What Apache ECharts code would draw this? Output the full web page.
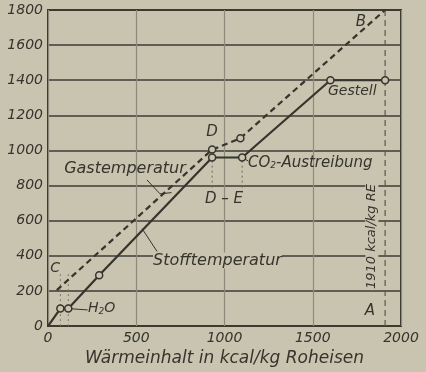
<!DOCTYPE html>
<html>
<head>
<meta charset="utf-8">
<script src="https://cdn.jsdelivr.net/npm/echarts@6/dist/echarts.min.js"></script>
<style>
  html, body { margin: 0; padding: 0; background: #c8c4b0; }
  #chart { width: 426px; height: 372px; }
</style>
</head>
<body>
<div id="chart"></div>
<script>
// Stofftemperatur (solid) and Gastemperatur (dashed), kcal/kg vs °C
const stoffX = [0, 70, 115, 290, 930, 1100, 1600, 1910];
const stoffY = [0, 100, 100, 290, 960, 960, 1400, 1400];
const stoffMark = [false, true, true, true, true, true, true, true];
const gasX = [50, 930, 1090, 1910];
const gasY = [205, 1005, 1070, 1800];
const gasMark = [false, true, true, false];
const xTicks = [0, 500, 1000, 1500, 2000];
const yTicks = [0, 200, 400, 600, 800, 1000, 1200, 1400, 1600, 1800];
const limitX = 1910; // 1910 kcal/kg RE

const bg = "#c8c4b0";
const ink = "#35342d";
const font = "'DejaVu Sans', sans-serif";

const pts = (xs, ys, marks) =>
  xs.map((x, i) => ({ value: [x, ys[i]], symbol: marks[i] ? "circle" : "none" }));

// helper lines (leaders, dotted guides) in data units
const guide = (data, type, width, color) => ({
  type: "line",
  data: data,
  symbol: "none",
  silent: true,
  lineStyle: { color: color || ink, width: width || 1, type: type || "solid" },
  z: 1,
});

const chart = echarts.init(document.getElementById("chart"));
const option = {
  backgroundColor: bg,
  animation: false,
  grid: { left: 48, right: 25, top: 10, bottom: 44, show: true, borderColor: ink, borderWidth: 2 },
  xAxis: {
    type: "value", min: 0, max: 2000, interval: 500,
    name: "Wärmeinhalt in kcal/kg Roheisen",
    nameLocation: "middle", nameGap: 19,
    nameTextStyle: { color: ink, fontFamily: font, fontStyle: "italic", fontSize: 17 },
    axisLine: { show: false },
    axisTick: { show: false },
    axisLabel: { color: ink, fontFamily: font, fontStyle: "italic", fontSize: 14, margin: 5,
      formatter: v => xTicks.includes(v) ? String(v) : "" },
    splitLine: { show: true, lineStyle: { color: "#8d8a7b", width: 1.2 } },
  },
  yAxis: {
    type: "value", min: 0, max: 1800, interval: 200,
    axisLine: { show: false },
    axisTick: { show: false },
    axisLabel: { color: ink, fontFamily: font, fontStyle: "italic", fontSize: 14, margin: 5,
      formatter: v => yTicks.includes(v) ? String(v) : "" },
    splitLine: { show: true, lineStyle: { color: "#3e3d36", width: 1.5 } },
  },
  series: [
    {
      name: "Stofftemperatur", type: "line",
      data: pts(stoffX, stoffY, stoffMark),
      symbolSize: 7,
      itemStyle: { color: bg, borderColor: ink, borderWidth: 1.5 },
      lineStyle: { color: ink, width: 2.2 },
      z: 3,
    },
    {
      name: "Gastemperatur", type: "line",
      data: pts(gasX, gasY, gasMark),
      symbolSize: 7,
      itemStyle: { color: bg, borderColor: ink, borderWidth: 1.5 },
      lineStyle: { color: ink, width: 2.2, type: [6, 4] },
      z: 3,
    },
    guide([[limitX, 0], [limitX, 1800]], [6, 4], 1.2, "#5a584f"),
    guide([[930, 760], [930, 1000]], [2, 3], 1, "#6a685d"),
    guide([[1100, 760], [1100, 960]], [2, 3], 1, "#6a685d"),
    guide([[70, 0], [70, 300]], [2, 3], 1, "#7a776b"),
    guide([[115, 0], [115, 300]], [2, 3], 1, "#7a776b"),
    guide([[533, 555], [618, 425]], "solid", 1),
    guide([[113, 100], [225, 92]], "solid", 1),
    guide([[561, 832], [635, 753], [700, 760]], "solid", 1),
    guide([[1100, 960], [1135, 940]], "solid", 1),
  ],
};
chart.setOption(option);

// annotation texts, anchored in data units
const labels = [
  { t: "Gastemperatur", x: 436, y: 893, align: "center", size: 16 },
  { t: "Stofftemperatur", x: 595, y: 374, align: "left", size: 16 },
  { t: "CO{s|2}-Austreibung", x: 1133, y: 930, align: "left", size: 15 },
  { t: "Gestell", x: 1586, y: 1337, align: "left", size: 14 },
  { t: "B", x: 1773, y: 1733, align: "center", size: 15 },
  { t: "D", x: 929, y: 1105, align: "center", size: 15 },
  { t: "D – E", x: 997, y: 725, align: "center", size: 15 },
  { t: "C", x: 40, y: 328, align: "center", size: 14 },
  { t: "H{s|2}O", x: 227, y: 100, align: "left", size: 14 },
  { t: "A", x: 1824, y: 85, align: "center", size: 15 },
];
const graphics = labels.map(l => {
  const p = chart.convertToPixel({ gridIndex: 0 }, [l.x, l.y]);
  return {
    type: "text", x: p[0], y: p[1], z: 10,
    style: {
      text: l.t, fill: ink, font: "italic " + l.size + "px " + font,
      align: l.align, verticalAlign: "middle",
      backgroundColor: l.t === "Stofftemperatur" ? bg : null,
      rich: { s: { fontSize: 9, fontStyle: "italic", fontFamily: font, verticalAlign: "bottom", padding: [6, 0, 0, 0] } },
    },
  };
});
const rp = chart.convertToPixel({ gridIndex: 0 }, [1835, 510]);
graphics.push({
  type: "text", x: rp[0], y: rp[1], rotation: Math.PI / 2, z: 10,
  style: { text: "1910 kcal/kg RE", fill: ink, font: "italic 13px " + font,
    align: "center", verticalAlign: "middle", backgroundColor: bg },
});
chart.setOption({ graphic: graphics });
</script>
</body>
</html>
